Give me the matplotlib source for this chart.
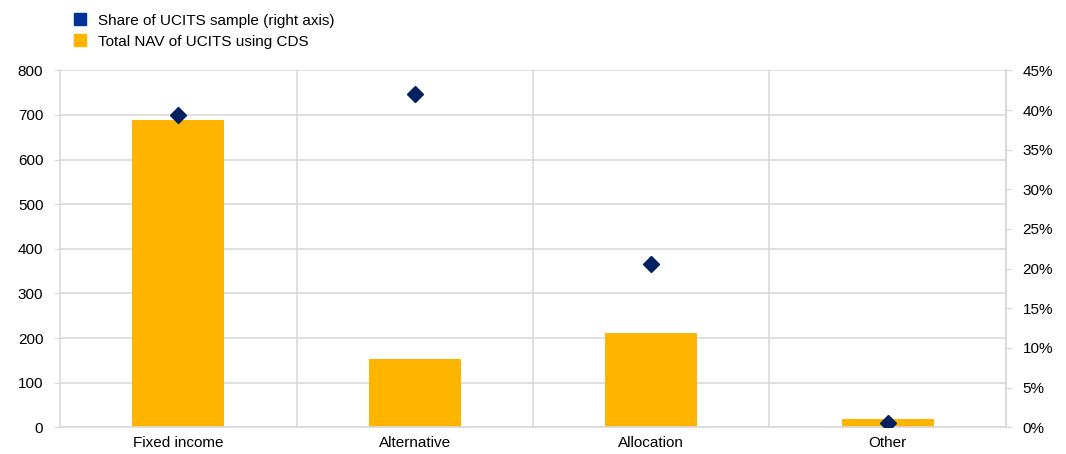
import matplotlib.pyplot as plt
from matplotlib.ticker import FuncFormatter
from matplotlib.lines import Line2D

categories = ['Fixed income', 'Alternative', 'Allocation', 'Other']
nav_values = [689, 153, 211, 18]          # left axis, total NAV
share_values = [39.4, 42.0, 20.6, 0.5]    # right axis, %

plt.rcParams['font.family'] = ['Liberation Sans', 'DejaVu Sans']
plt.rcParams['font.size'] = 11

bar_col = '#FFB400'
dia_col = '#002060'
leg_col = '#003399'
grid_col = '#D9D9D9'

fig = plt.figure(figsize=(10.66, 4.54), dpi=100)
ax = fig.add_axes([0.0563, 0.059, 0.8874, 0.786])
x = list(range(len(categories)))

ax.bar(x, nav_values, width=0.39, color=bar_col, zorder=2)
ax.set_xlim(-0.5, len(categories) - 0.5)
ax.set_ylim(0, 800)
ax.set_yticks(range(0, 801, 100))
ax.set_xticks(x)
ax.set_xticklabels(categories)
ax.yaxis.grid(True, color=grid_col, lw=1.2, zorder=0)
for b in [0.5, 1.5, 2.5]:
    ax.axvline(b, color=grid_col, lw=1.2, zorder=0)
ax.spines['top'].set_visible(False)
for s in ['left', 'right', 'bottom']:
    ax.spines[s].set_color(grid_col)
    ax.spines[s].set_linewidth(1.2)
ax.tick_params(axis='y', color=grid_col, length=4, pad=8)
ax.tick_params(axis='x', length=0, pad=6)

ax2 = ax.twinx()
ax2.plot(x, share_values, linestyle='none', marker='D', ms=8.5, color=dia_col, zorder=3)
ax2.set_ylim(0, 45)
ax2.set_yticks(range(0, 46, 5))
ax2.yaxis.set_major_formatter(FuncFormatter(lambda v, p: f'{v:.0f}%'))
ax2.tick_params(axis='y', color=grid_col, length=4, pad=8)
for s in ['top', 'left', 'bottom']:
    ax2.spines[s].set_visible(False)
ax2.spines['right'].set_color(grid_col)
ax2.spines['right'].set_linewidth(1.2)

handles = [
    Line2D([], [], linestyle='none', marker='s', ms=8.5, color=leg_col),
    Line2D([], [], linestyle='none', marker='s', ms=8.5, color=bar_col),
]
labels = ['Share of UCITS sample (right axis)', 'Total NAV of UCITS using CDS']
fig.legend(handles, labels, loc='upper left', bbox_to_anchor=(0.055, 1.0),
           frameon=False, handlelength=1.0, handletextpad=0.65,
           labelspacing=0.45, fontsize=11)

plt.savefig('out.png')
plt.close()
